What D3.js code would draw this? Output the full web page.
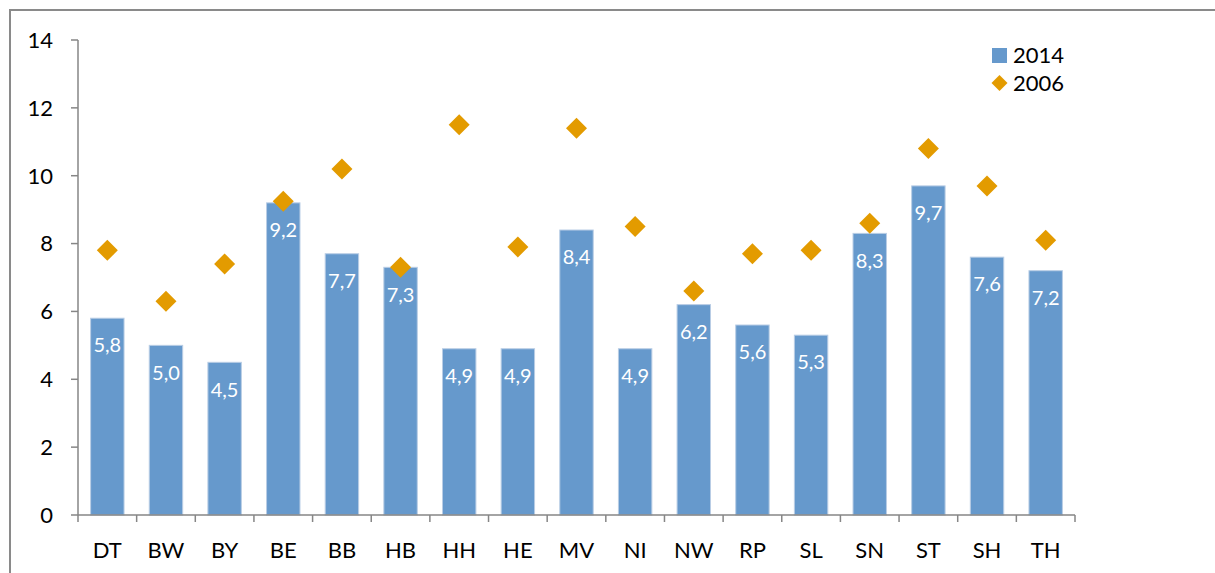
<!DOCTYPE html>
<html>
<head>
<meta charset="utf-8">
<script src="https://cdn.jsdelivr.net/npm/d3@7"></script>
<style>
  body { margin: 0; background: #fff; }
  text { font-family: Lato, "Open Sans", sans-serif; }
</style>
</head>
<body>
<div id="chart"></div>
<script>
// chart data
var categories = ["DT", "BW", "BY", "BE", "BB", "HB", "HH", "HE", "MV", "NI", "NW", "RP", "SL", "SN", "ST", "SH", "TH"];
var values2014 = [5.8, 5.0, 4.5, 9.2, 7.7, 7.3, 4.9, 4.9, 8.4, 4.9, 6.2, 5.6, 5.3, 8.3, 9.7, 7.6, 7.2];
var values2006 = [7.8, 6.3, 7.4, 9.25, 10.2, 7.3, 11.5, 7.9, 11.4, 8.5, 6.6, 7.7, 7.8, 8.6, 10.8, 9.7, 8.1];
var yTicks = [0, 2, 4, 6, 8, 10, 12, 14];
var seriesNames = ["2014", "2006"];

var width = 1215;
var height = 573;

var barColor = "#6699cc";
var diamondColor = "#e39b00";
var axisColor = "#868686";

var svg = d3.select("#chart")
    .append("svg")
    .attr("width", width)
    .attr("height", height);

// outer frame (runs off the right/bottom edge like the source)
svg.append("rect")
    .attr("x", 10)
    .attr("y", 10)
    .attr("width", width + 20)
    .attr("height", height + 20)
    .attr("fill", "none")
    .attr("stroke", "#8a8a8a")
    .attr("stroke-width", 2);

var x = d3.scaleBand()
    .domain(categories)
    .range([78, 1075])
    .paddingInner(0.43)
    .paddingOuter(0.215);

var y = d3.scaleLinear()
    .domain([0, 14])
    .range([515, 40]);

var step = x.step();

// y axis
var yAxis = svg.append("g").attr("transform", "translate(78,0)");
yAxis.append("line")
    .attr("x1", 0).attr("x2", 0)
    .attr("y1", y(0)).attr("y2", y(14))
    .attr("stroke", axisColor).attr("stroke-width", 1.5);
yAxis.selectAll(".tick")
    .data(yTicks)
    .enter()
    .append("line")
    .attr("x1", -7).attr("x2", 0)
    .attr("y1", function(d) { return y(d); })
    .attr("y2", function(d) { return y(d); })
    .attr("stroke", axisColor).attr("stroke-width", 1.5);
yAxis.selectAll(".lbl")
    .data(yTicks)
    .enter()
    .append("text")
    .attr("x", -25)
    .attr("y", function(d) { return y(d); })
    .attr("dy", "0.36em")
    .attr("text-anchor", "end")
    .attr("font-size", 22)
    .attr("fill", "#000")
    .text(function(d) { return d; });

// bars
svg.selectAll(".bar")
    .data(categories)
    .enter()
    .append("rect")
    .attr("x", function(d) { return x(d); })
    .attr("y", function(d, i) { return y(values2014[i]); })
    .attr("width", x.bandwidth())
    .attr("height", function(d, i) { return y(0) - y(values2014[i]); })
    .attr("fill", barColor)
    .attr("stroke", "#b9cde5")
    .attr("stroke-width", 1);

// bar labels
svg.selectAll(".barlbl")
    .data(categories)
    .enter()
    .append("text")
    .attr("x", function(d) { return x(d) + x.bandwidth() / 2; })
    .attr("y", function(d, i) { return y(values2014[i]) + 27; })
    .attr("dy", "0.36em")
    .attr("text-anchor", "middle")
    .attr("font-size", 20)
    .attr("fill", "#fff")
    .text(function(d, i) { return d3.format(".1f")(values2014[i]).replace(".", ","); });

// x axis
var x0 = x.range()[0];
svg.append("line")
    .attr("x1", x0).attr("x2", x.range()[1])
    .attr("y1", y(0)).attr("y2", y(0))
    .attr("stroke", axisColor).attr("stroke-width", 1.5);
svg.selectAll(".xtick")
    .data(d3.range(categories.length + 1))
    .enter()
    .append("line")
    .attr("x1", function(i) { return x0 + i * step; })
    .attr("x2", function(i) { return x0 + i * step; })
    .attr("y1", y(0)).attr("y2", y(0) + 7)
    .attr("stroke", axisColor).attr("stroke-width", 1.5);
svg.selectAll(".xlbl")
    .data(categories)
    .enter()
    .append("text")
    .attr("x", function(d) { return x(d) + x.bandwidth() / 2; })
    .attr("y", 558)
    .attr("text-anchor", "middle")
    .attr("font-size", 22)
    .attr("fill", "#000")
    .text(function(d) { return d; });

// diamonds
function diamond(r) {
    return "M0," + (-r) + "L" + r + ",0L0," + r + "L" + (-r) + ",0Z";
}
svg.selectAll(".pt")
    .data(categories)
    .enter()
    .append("path")
    .attr("d", diamond(10.5))
    .attr("transform", function(d, i) {
        return "translate(" + (x(d) + x.bandwidth() / 2) + "," + y(values2006[i]) + ")";
    })
    .attr("fill", diamondColor);

// legend
var legend = svg.append("g").attr("transform", "translate(992,0)");
legend.append("rect")
    .attr("x", 0).attr("y", 48)
    .attr("width", 15).attr("height", 15)
    .attr("fill", barColor);
legend.append("path")
    .attr("d", diamond(8))
    .attr("transform", "translate(7.5,83)")
    .attr("fill", diamondColor);
legend.selectAll(".ltxt")
    .data(seriesNames)
    .enter()
    .append("text")
    .attr("x", 21)
    .attr("y", function(d, i) { return 55.5 + i * 28; })
    .attr("dy", "0.36em")
    .attr("font-size", 22)
    .attr("fill", "#000")
    .text(function(d) { return d; });
</script>
</body>
</html>
